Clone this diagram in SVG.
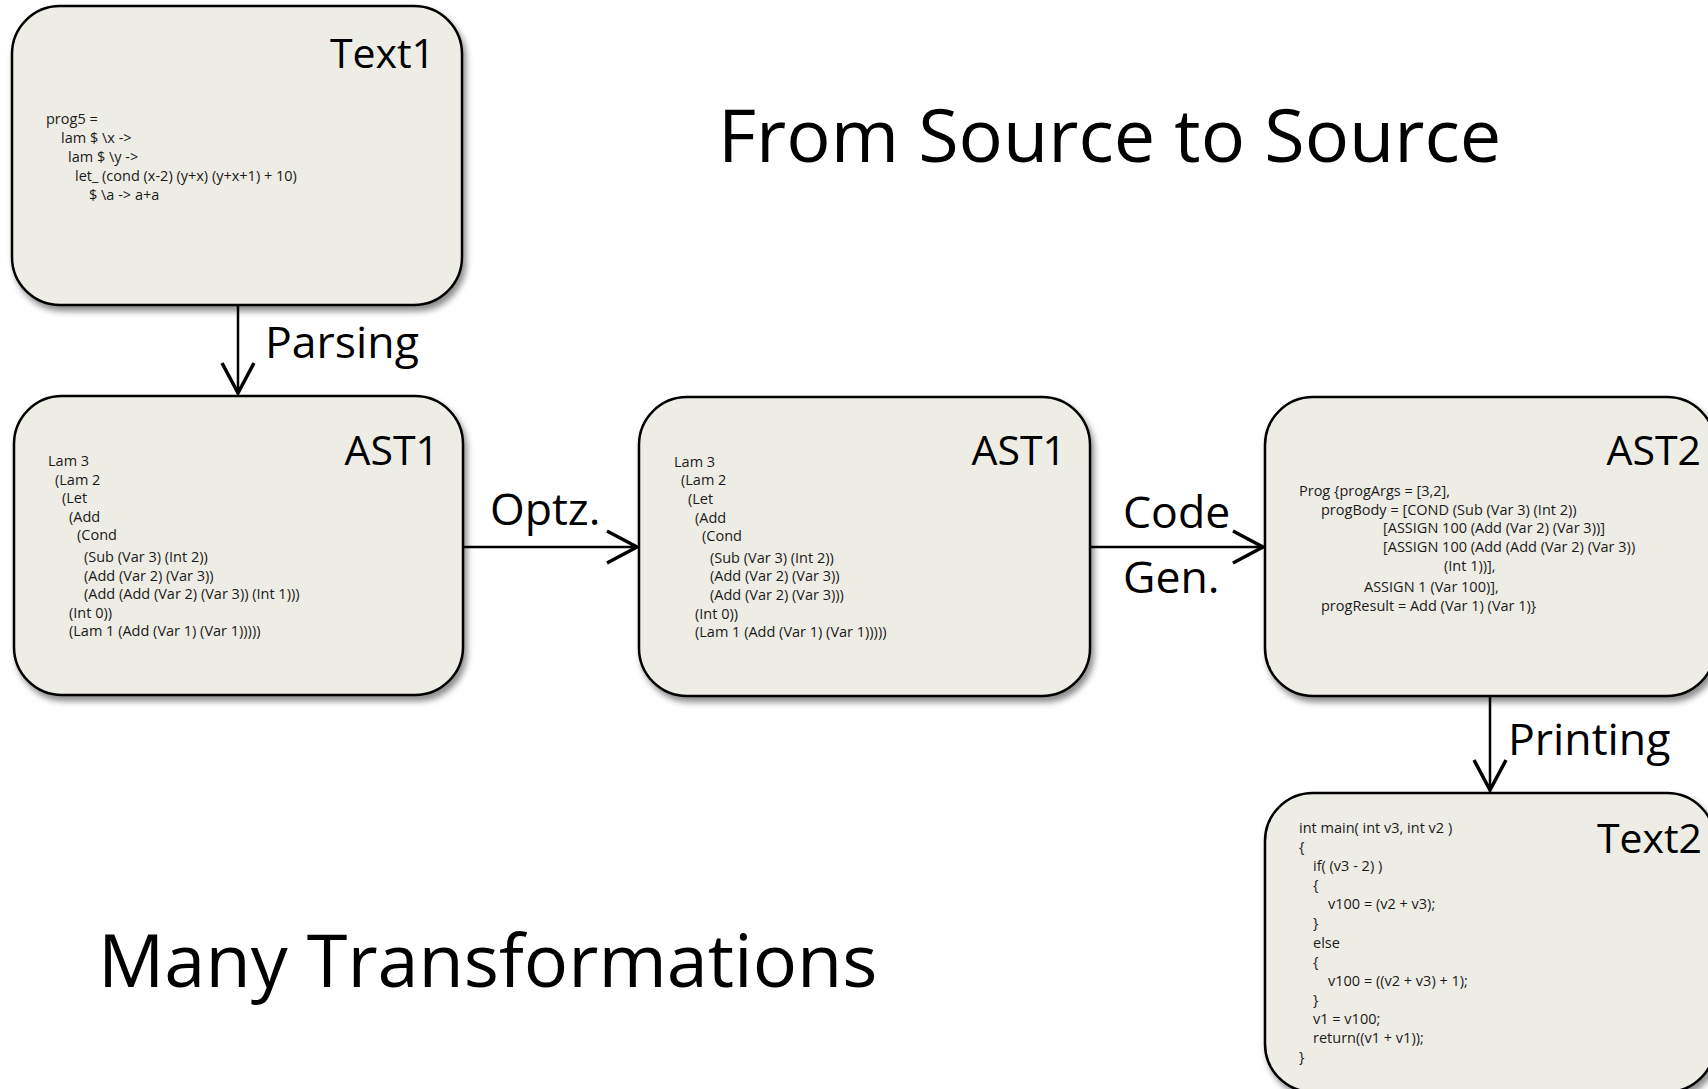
<svg xmlns="http://www.w3.org/2000/svg" width="1708" height="1089" viewBox="0 0 1708 1089">
<defs>
<filter id="shadow" x="-10%" y="-10%" width="125%" height="125%">
<feDropShadow dx="3" dy="5" stdDeviation="3" flood-color="#000" flood-opacity="0.45"/>
</filter>
<marker id="vhead" markerUnits="userSpaceOnUse" markerWidth="40" markerHeight="40" viewBox="-34 -20 38 40" refX="0" refY="0" orient="auto">
<path d="M-30,-16 L0,0 L-30,16" fill="none" stroke="#000" stroke-width="3.5" stroke-linejoin="miter"/>
</marker>
<style>
.box{fill:#EEEDE5;stroke:#000;stroke-width:2.5;filter:url(#shadow)}
.ttl{font-family:"Open Sans","Liberation Sans",sans-serif;font-size:41px;fill:#000;text-anchor:end}
.code{font-family:"Open Sans","Liberation Sans",sans-serif;font-size:14.5px;fill:#1a1a1a}
.elab{font-family:"Open Sans","Liberation Sans",sans-serif;font-size:44.6px;fill:#000}
.big{font-family:"Open Sans","Liberation Sans",sans-serif;font-size:73.8px;fill:#000}
.conn{stroke:#000;stroke-width:2.5;fill:none;marker-end:url(#vhead)}
</style>
</defs>
<rect width="1708" height="1089" fill="#fff"/>

<g id="connectors">
<line class="conn" x1="238" y1="305" x2="238" y2="393"/>
<line class="conn" x1="463" y1="547" x2="637" y2="547"/>
<line class="conn" x1="1090" y1="547" x2="1263" y2="547"/>
<line class="conn" x1="1490" y1="696" x2="1490" y2="790"/>
<text class="elab" x="265" y="358">Parsing</text>
<text class="elab" x="490" y="525">Optz.</text>
<text class="elab" x="1123" y="528">Code</text>
<text class="elab" x="1123" y="593">Gen.</text>
<text class="elab" x="1508" y="755">Printing</text>
</g>

<g id="text1">
<rect class="box" x="12" y="6" width="450" height="299" rx="48" ry="48"/>
<text class="ttl" x="435" y="68">Text1</text>
<text class="code">
<tspan x="46" y="124">prog5 =</tspan>
<tspan x="61" y="143">lam $ \x -&gt;</tspan>
<tspan x="68" y="162">lam $ \y -&gt;</tspan>
<tspan x="75" y="181">let_ (cond (x-2) (y+x) (y+x+1) + 10)</tspan>
<tspan x="89" y="200">$ \a -&gt; a+a</tspan>
</text>
</g>

<g id="ast1-left">
<rect class="box" x="14" y="396" width="449" height="299" rx="48" ry="48"/>
<text class="ttl" x="439" y="465">AST1</text>
<text class="code">
<tspan x="48" y="466">Lam 3</tspan>
<tspan x="55" y="485">(Lam 2</tspan>
<tspan x="62" y="503">(Let</tspan>
<tspan x="69" y="522">(Add</tspan>
<tspan x="77" y="540">(Cond</tspan>
<tspan x="84" y="562">(Sub (Var 3) (Int 2))</tspan>
<tspan x="84" y="581">(Add (Var 2) (Var 3))</tspan>
<tspan x="84" y="599">(Add (Add (Var 2) (Var 3)) (Int 1)))</tspan>
<tspan x="69" y="618">(Int 0))</tspan>
<tspan x="69" y="636">(Lam 1 (Add (Var 1) (Var 1)))))</tspan>
</text>
</g>

<g id="ast1-mid">
<rect class="box" x="639" y="397" width="451" height="299" rx="48" ry="48"/>
<text class="ttl" x="1066" y="465">AST1</text>
<text class="code">
<tspan x="674" y="467">Lam 3</tspan>
<tspan x="681" y="485">(Lam 2</tspan>
<tspan x="688" y="504">(Let</tspan>
<tspan x="695" y="523">(Add</tspan>
<tspan x="702" y="541">(Cond</tspan>
<tspan x="710" y="563">(Sub (Var 3) (Int 2))</tspan>
<tspan x="710" y="581">(Add (Var 2) (Var 3))</tspan>
<tspan x="710" y="600">(Add (Var 2) (Var 3)))</tspan>
<tspan x="695" y="619">(Int 0))</tspan>
<tspan x="695" y="637">(Lam 1 (Add (Var 1) (Var 1)))))</tspan>
</text>
</g>

<g id="ast2">
<rect class="box" x="1265" y="397" width="450" height="299" rx="48" ry="48"/>
<text class="ttl" x="1701" y="465">AST2</text>
<text class="code">
<tspan x="1299" y="496">Prog {progArgs = [3,2],</tspan>
<tspan x="1321" y="515">progBody = [COND (Sub (Var 3) (Int 2))</tspan>
<tspan x="1383" y="533">[ASSIGN 100 (Add (Var 2) (Var 3))]</tspan>
<tspan x="1383" y="552">[ASSIGN 100 (Add (Add (Var 2) (Var 3))</tspan>
<tspan x="1444" y="571">(Int 1))],</tspan>
<tspan x="1364" y="592">ASSIGN 1 (Var 100)],</tspan>
<tspan x="1321" y="611">progResult = Add (Var 1) (Var 1)}</tspan>
</text>
</g>

<g id="text2">
<rect class="box" x="1265" y="793" width="450" height="299" rx="48" ry="48"/>
<text class="ttl" x="1702" y="853">Text2</text>
<text class="code">
<tspan x="1299" y="833">int main( int v3, int v2 )</tspan>
<tspan x="1299" y="852">{</tspan>
<tspan x="1313" y="871">if( (v3 - 2) )</tspan>
<tspan x="1313" y="890">{</tspan>
<tspan x="1328" y="909">v100 = (v2 + v3);</tspan>
<tspan x="1313" y="928">}</tspan>
<tspan x="1313" y="948">else</tspan>
<tspan x="1313" y="967">{</tspan>
<tspan x="1328" y="986">v100 = ((v2 + v3) + 1);</tspan>
<tspan x="1313" y="1005">}</tspan>
<tspan x="1313" y="1024">v1 = v100;</tspan>
<tspan x="1313" y="1043">return((v1 + v1));</tspan>
<tspan x="1299" y="1062">}</tspan>
</text>
</g>

<g id="titles">
<text class="big" x="718" y="162">From Source to Source</text>
<text class="big" x="98" y="987">Many Transformations</text>
</g>
</svg>
